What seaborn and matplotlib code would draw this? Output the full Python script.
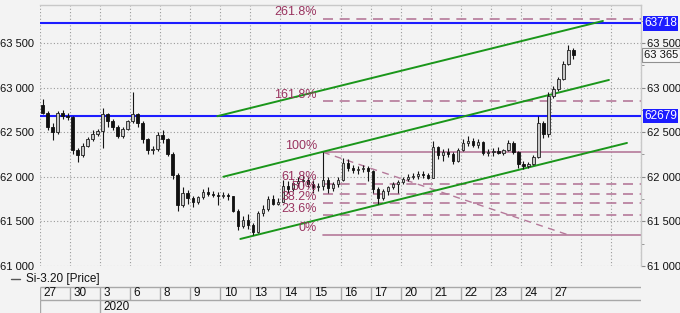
import numpy as np
import pandas as pd
import matplotlib
matplotlib.use("Agg")
import matplotlib.pyplot as plt
import seaborn as sns
from matplotlib.ticker import MultipleLocator, FuncFormatter
from matplotlib.lines import Line2D
import matplotlib.transforms as mtransforms

# ---------------- data ----------------
day_labels = ['27', '30', '3', '6', '8', '9', '10', '13', '14', '15', '16', '17',
              '20', '21', '22', '23', '24', '27']
year_label = '2020'
year_start_day = 2
candles_per_day = 6
series_name = 'Si-3.20 [Price]'

first_open = 62800
closes = [62720, 62560, 62500, 62720, 62680, 62670,
          62300, 62240, 62350, 62420, 62480, 62510,
          62700, 62620, 62560, 62460, 62540, 62620,
          62700, 62600, 62420, 62300, 62310, 62470,
          62420, 62260, 62020, 61680, 61820, 61760,
          61720, 61770, 61830, 61810, 61800, 61790,
          61800, 61780, 61620, 61450, 61520, 61460,
          61380, 61590, 61640, 61750, 61700, 61720,
          61900, 61860, 61930, 61950, 61960, 61920,
          61880, 61900, 61960, 61870, 61920, 61960,
          62150, 62100, 62080, 62090, 62100, 62070,
          61860, 61760, 61840, 61880, 61920, 61940,
          61980, 62000, 62010, 62030, 62020, 61990,
          62330, 62240, 62280, 62260, 62180, 62300,
          62380, 62400, 62360, 62390, 62270, 62280,
          62290, 62270, 62300, 62380, 62280, 62140,
          62120, 62140, 62220, 62600, 62480, 62900,
          62980, 63100, 63260, 63420, 63365]
highs = [62870, 62740, 62600, 62740, 62750, 62710,
         62680, 62320, 62380, 62450, 62520, 62540,
         62770, 62720, 62650, 62580, 62560, 62640,
         62950, 62720, 62620, 62440, 62340, 62500,
         62520, 62440, 62280, 62040, 61880, 61850,
         61780, 61790, 61860, 61880, 61840, 61830,
         61830, 61820, 61790, 61640, 61560, 61580,
         61480, 61620, 61680, 61780, 61800, 61760,
         61960, 61950, 61960, 62000, 62020, 62000,
         61960, 61930, 62275, 62000, 61940, 62000,
         62210, 62200, 62130, 62120, 62130, 62120,
         62080, 61880, 61860, 61900, 61940, 61960,
         62000, 62030, 62040, 62060, 62070, 62040,
         62400, 62350, 62310, 62320, 62280, 62320,
         62420, 62460, 62440, 62420, 62400, 62310,
         62320, 62330, 62310, 62410, 62400, 62290,
         62180, 62160, 62240, 62680, 62620, 62950,
         63020, 63120, 63300, 63480, 63440]
lows = [62700, 62520, 62410, 62480, 62650, 62640,
        62250, 62160, 62220, 62330, 62400, 62460,
        62320, 62560, 62520, 62430, 62440, 62520,
        62600, 62560, 62380, 62260, 62260, 62290,
        62380, 62230, 61980, 61620, 61660, 61700,
        61660, 61690, 61750, 61780, 61770, 61680,
        61760, 61740, 61600, 61400, 61430, 61420,
        61350, 61370, 61560, 61620, 61680, 61680,
        61720, 61820, 61840, 61880, 61900, 61880,
        61820, 61840, 61850, 61820, 61840, 61880,
        61950, 62060, 62040, 62030, 62050, 61950,
        61820, 61700, 61740, 61800, 61860, 61820,
        61920, 61950, 61970, 61980, 61990, 61970,
        61990, 62200, 62180, 62220, 62140, 62170,
        62290, 62340, 62330, 62320, 62240, 62230,
        62230, 62250, 62240, 62290, 62250, 62100,
        62090, 62100, 62130, 62210, 62440, 62450,
        62880, 62960, 63080, 63250, 63320]

hlines_levels = [63718, 62679]
last_price = 63365

fib_low = 61350
fib_high = 62275
fib_ratios = [0.0, 0.236, 0.382, 0.5, 0.618, 1.0, 1.618, 2.618]
fib_names = ['0%', '23.6%', '38.2%', '50%', '61.8%', '100%', '161.8%', '261.8%']
fib_start_x = 56.5
fib_diag_end_x = 105.4

channel_x0 = [35.4, 36.6, 40.0]
channel_y0 = [62679, 62000, 61303]
channel_x1 = [112.4, 113.6, 117.2]
channel_y1 = [63746, 63085, 62379]

# ---------------- style ----------------
sns.set_style('white')
plt.rcParams['font.family'] = ['Liberation Sans', 'DejaVu Sans']
plt.rcParams['font.size'] = 8

BG = '#f3f3f3'
GRID = '#9a9a9a'
FIB_LINE = '#b5799a'
FIB_TEXT = '#99335f'
GREEN = '#1a961a'
BLUE = '#1c1cff'

W, H = 680, 313
fig = plt.figure(figsize=(W / 100, H / 100), dpi=100, facecolor=BG)
ax = fig.add_axes([40 / W, 47 / H, 601 / W, 261 / H], facecolor=BG)

n_days = len(day_labels)
x_max = 120
ax.set_xlim(0, x_max)
ax.set_ylim(61000, 63925)

# grid
ax.xaxis.set_major_locator(MultipleLocator(candles_per_day))
ax.yaxis.set_major_locator(MultipleLocator(500))
ax.yaxis.set_minor_locator(MultipleLocator(250))
ax.grid(True, which='major', color=GRID, linestyle=(0, (1, 2)), linewidth=0.8)
ax.set_axisbelow(True)
for s in ['left', 'bottom']:
    ax.spines[s].set_visible(False)
for s in ['top', 'right']:
    ax.spines[s].set_color('#c8c8c8')
    ax.spines[s].set_linewidth(1)

ax.tick_params(axis='x', bottom=False, labelbottom=False)
ax.tick_params(axis='y', which='both', left=False, right=True, labelleft=True,
               labelright=True, direction='out', color='#888888', labelsize=8,
               labelcolor='#111111')
ax.tick_params(axis='y', which='major', length=3, pad=1.5)
ax.tick_params(axis='y', which='minor', length=2)
ax.yaxis.set_major_formatter(FuncFormatter(lambda v, p: f'{int(v):,}'.replace(',', ' ')))

# candles
closes_a = np.array(closes, dtype=float)
opens_a = np.concatenate([[first_open], closes_a[:-1]])
highs_a = np.array(highs, dtype=float)
lows_a = np.array(lows, dtype=float)
xs = np.arange(len(closes_a)) + 0.5
ax.vlines(xs, lows_a, highs_a, color='#151515', linewidth=0.8, zorder=4)
up = closes_a >= opens_a
bottoms = np.minimum(opens_a, closes_a)
heights = np.maximum(np.abs(closes_a - opens_a), 8)
ax.bar(xs[up], heights[up], bottom=bottoms[up], width=0.5, color='#c8c8c8',
       edgecolor='#202020', linewidth=0.6, zorder=5)
ax.bar(xs[~up], heights[~up], bottom=bottoms[~up], width=0.5, color='#111111',
       edgecolor='#111111', linewidth=0.6, zorder=5)

# horizontal blue lines
for lv in hlines_levels:
    ax.axhline(lv, color=BLUE, linewidth=1.5, zorder=3)

# fibonacci
fib_rng = fib_high - fib_low
for r, name in zip(fib_ratios, fib_names):
    lvl = fib_low + r * fib_rng
    ls = '-' if r in (0.0, 1.0) else (0, (6, 4))
    ax.plot([fib_start_x, x_max], [lvl, lvl], color=FIB_LINE, linewidth=1.2,
            linestyle=ls, zorder=2)
    ax.text(fib_start_x - 1.2, lvl + 5, name, ha='right', va='bottom',
            color=FIB_TEXT, fontsize=9, zorder=6)
ax.plot([fib_start_x, fib_diag_end_x], [fib_high, fib_low], color=FIB_LINE,
        linewidth=1.0, linestyle=(0, (5, 4)), zorder=2)

# channel lines via seaborn
ch = pd.DataFrame({
    'x': channel_x0 + channel_x1,
    'y': channel_y0 + channel_y1,
    'line': list(range(len(channel_x0))) * 2,
})
sns.lineplot(data=ch, x='x', y='y', units='line', estimator=None, color=GREEN,
             linewidth=1.4, ax=ax, zorder=3, legend=False)
ax.set_xlabel('')
ax.set_ylabel('')
ax.set_xlim(0, x_max)
ax.set_ylim(61000, 63925)

# right side labels
trans = mtransforms.blended_transform_factory(ax.transAxes, ax.transData)
for lv in hlines_levels:
    ax.text(1.005, lv, f'{lv}', transform=trans, ha='left', va='center',
            color='white', fontsize=8.5, clip_on=False, zorder=10,
            bbox=dict(boxstyle='square,pad=0.1', fc=BLUE, ec='none'))
ax.text(1.005, last_price, f'{last_price:,}'.replace(',', ' '), transform=trans,
        ha='left', va='center', color='#111111', fontsize=8, clip_on=False,
        zorder=10, bbox=dict(boxstyle='square,pad=0.15', fc='#f8f8f8', ec='#909090', lw=0.8))

# legend line
fig.add_artist(Line2D([11 / W, 20 / W], [1 - 279 / H, 1 - 279 / H], color='#555555', lw=1))
fig.text(26 / W, 1 - 279 / H, series_name, ha='left', va='center', fontsize=8.5,
         color='#111111')

# date strip
ax2 = fig.add_axes([40 / W, 0, 601 / W, 27 / H], facecolor=BG)
ax2.set_xlim(0, x_max)
ax2.set_ylim(0, 27)
ax2.axis('off')
day_starts = [d * candles_per_day for d in range(n_days)]
ax2.hlines([26.5, 13], 0, x_max, color='#a8a8a8', linewidth=1)
ax2.vlines(day_starts, 13, 26.5, color='#a8a8a8', linewidth=1)
ax2.vlines([0, year_start_day * candles_per_day], 0, 13, color='#a8a8a8', linewidth=1)
for ds, lab in zip(day_starts, day_labels):
    ax2.text(ds + 0.7, 19.5, lab, ha='left', va='center', fontsize=8.5, color='#111111')
ax2.text(year_start_day * candles_per_day + 0.7, 6.5, year_label, ha='left',
         va='center', fontsize=8.5, color='#111111')

fig.savefig('out.png', dpi=100, facecolor=BG)
